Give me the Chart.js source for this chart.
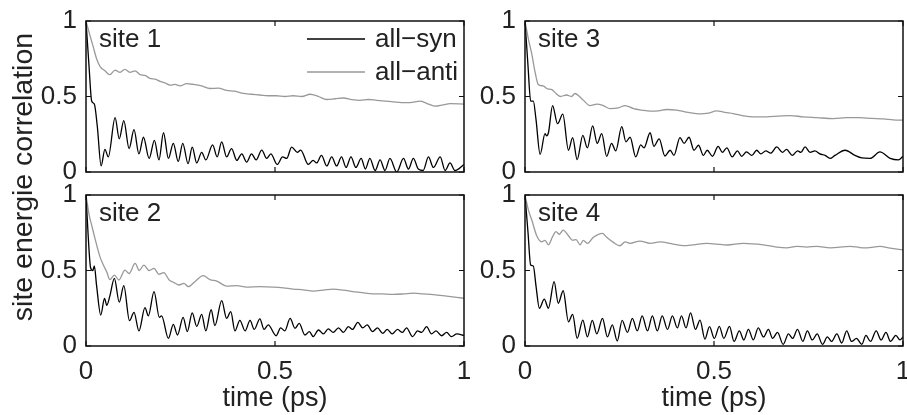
<!DOCTYPE html>
<html>
<head>
<meta charset="utf-8">
<script src="https://cdn.jsdelivr.net/npm/chart.js@4.4.1/dist/chart.umd.min.js"></script>
<style>
  html, body { margin: 0; padding: 0; background: #fff; }
  #wrap { position: relative; width: 907px; height: 415px; overflow: hidden; }
  canvas { position: absolute; }
  #ytitle {
    position: absolute; left: -138px; top: 162px; width: 320px; height: 30px;
    line-height: 30px; text-align: center; transform: rotate(-90deg);
    font-family: "Liberation Sans", Arial, sans-serif; font-size: 28.5px; color: #222;
    white-space: nowrap;
  }
</style>
</head>
<body>
<div id="wrap">
  <canvas id="c1" width="480" height="186" style="left:0px;top:0px"></canvas>
  <canvas id="c3" width="477" height="186" style="left:440px;top:0px"></canvas>
  <canvas id="c2" width="480" height="235" style="left:0px;top:180px"></canvas>
  <canvas id="c4" width="477" height="235" style="left:440px;top:180px"></canvas>
  <div id="ytitle">site energie correlation</div>
</div>
<script>
// axis ticks
const xTicks = [0, 0.5, 1];
const yTicks = [0, 0.5, 1];
const seriesNames = ['all\u2212syn', 'all\u2212anti'];

// site 1
const site1SynT = [0, .008, .015, .022, .03, .04, .05, .059, .077, .088, .1, .114, .127, .14, .152, .167, .181, .193, .205, .218, .231, .244, .256, .27, .281, .293, .306, .317, .335, .347, .359, .372, .385, .399, .412, .425, .438, .45, .465, .478, .489, .506, .52, .531, .544, .559, .568, .588, .601, .61, .623, .637, .65, .663, .676, .688, .701, .714, .728, .739, .751, .765, .778, .791, .804, .822, .84, .853, .866, .879, .892, .906, .919, .937, .95, .963, .976, 1];
const site1SynV = [1, .7, .47, .45, .3, .04, .15, .1, .36, .22, .34, .155, .28, .12, .23, .09, .21, .08, .26, .09, .19, .07, .19, .055, .165, .06, .13, .08, .18, .1, .2, .1, .155, .077, .12, .066, .12, .08, .145, .09, .12, .05, .1, .09, .165, .13, .145, .05, .077, .06, .11, .04, .1, .04, .1, .03, .1, .03, .09, .02, .09, .01, .08, .01, .09, 0, .09, .02, .09, .02, .01, .1, .03, .1, .01, .06, .01, .05];
const site1AntiT = [0, .011, .019, .028, .037, .05, .063, .077, .09, .103, .116, .13, .143, .156, .169, .183, .196, .209, .222, .235, .249, .266, .284, .306, .328, .35, .372, .394, .416, .438, .46, .482, .504, .526, .548, .571, .593, .615, .637, .659, .681, .703, .725, .747, .769, .791, .813, .835, .857, .884, .901, .923, .945, .963, 1];
const site1AntiV = [1, .9, .83, .75, .7, .67, .645, .675, .66, .68, .66, .67, .645, .64, .62, .615, .6, .59, .575, .58, .57, .585, .58, .57, .553, .555, .54, .535, .52, .515, .51, .505, .505, .5, .505, .5, .515, .5, .48, .485, .49, .48, .475, .48, .475, .47, .465, .46, .46, .47, .455, .436, .445, .453, .45];

// site 2
const site2SynT = [0, .006, .012, .018, .022, .028, .039, .049, .055, .063, .075, .088, .1, .115, .127, .14, .156, .165, .18, .194, .2, .218, .231, .242, .257, .268, .281, .293, .306, .317, .331, .341, .359, .372, .383, .394, .407, .421, .434, .445, .46, .471, .482, .503, .515, .526, .54, .553, .564, .579, .591, .601, .615, .628, .641, .654, .668, .681, .694, .705, .719, .732, .744, .758, .771, .785, .797, .81, .824, .837, .848, .864, .877, .888, .901, .914, .926, .941, .954, .967, .981, 1];
const site2SynV = [1, .72, .52, .5, .53, .4, .205, .315, .27, .33, .448, .29, .4, .168, .223, .1, .254, .2, .36, .19, .2, .05, .143, .073, .19, .095, .22, .13, .21, .1, .24, .135, .3, .183, .227, .1, .17, .1, .17, .11, .18, .11, .14, .068, .12, .1, .183, .117, .15, .073, .095, .062, .106, .08, .113, .09, .12, .09, .128, .11, .157, .12, .14, .095, .12, .084, .11, .08, .11, .09, .12, .062, .1, .09, .128, .08, .1, .068, .09, .062, .08, .07];
const site2AntiT = [0, .009, .015, .024, .037, .046, .055, .063, .075, .087, .103, .114, .13, .141, .153, .167, .18, .193, .206, .22, .233, .246, .259, .271, .288, .31, .328, .346, .372, .399, .425, .46, .496, .522, .548, .575, .601, .628, .654, .681, .707, .751, .782, .813, .84, .866, .892, .919, .954, .981, 1];
const site2AntiV = [1, .86, .8, .71, .59, .536, .49, .44, .47, .437, .503, .48, .547, .5, .536, .5, .514, .475, .486, .437, .42, .404, .415, .393, .426, .466, .44, .43, .397, .4, .39, .393, .39, .385, .377, .372, .364, .37, .377, .37, .36, .347, .345, .342, .345, .35, .345, .34, .33, .322, .316];

// site 3
const site3SynT = [0, .008, .015, .022, .029, .04, .053, .057, .062, .073, .086, .1, .115, .126, .138, .153, .165, .179, .191, .203, .216, .229, .24, .256, .267, .278, .293, .306, .315, .331, .341, .355, .37, .384, .394, .41, .421, .434, .447, .459, .472, .482, .496, .511, .522, .534, .548, .562, .573, .586, .6, .613, .624, .637, .65, .666, .681, .692, .707, .721, .73, .741, .754, .767, .78, .794, .807, .82, .847, .873, .891, .913, .939, .966, .988, 1];
const site3SynV = [1, .7, .47, .47, .35, .117, .254, .24, .26, .44, .32, .383, .144, .228, .082, .243, .16, .305, .19, .254, .104, .19, .14, .3, .2, .23, .1, .18, .16, .26, .17, .22, .106, .144, .11, .228, .19, .23, .144, .177, .11, .144, .104, .17, .13, .16, .1, .14, .104, .133, .11, .144, .12, .14, .125, .166, .13, .15, .11, .14, .13, .166, .13, .14, .12, .11, .09, .11, .144, .11, .093, .09, .133, .09, .08, .104];
const site3AntiT = [0, .009, .018, .026, .035, .048, .06, .071, .082, .093, .11, .123, .132, .144, .154, .172, .19, .207, .225, .247, .265, .287, .309, .331, .353, .375, .401, .432, .463, .485, .507, .529, .551, .578, .604, .639, .67, .701, .736, .772, .816, .851, .886, .917, .948, .974, 1];
const site3AntiV = [1, .88, .78, .67, .58, .57, .55, .546, .52, .5, .51, .5, .52, .5, .476, .44, .45, .44, .42, .425, .44, .42, .41, .403, .405, .414, .41, .395, .385, .39, .405, .395, .387, .372, .365, .365, .37, .374, .365, .36, .354, .36, .36, .355, .352, .345, .343];

// site 4
const site4SynT = [0, .008, .015, .022, .029, .038, .051, .062, .077, .088, .101, .115, .126, .138, .153, .165, .178, .19, .205, .218, .231, .244, .257, .271, .284, .297, .31, .324, .337, .35, .363, .377, .39, .403, .414, .426, .438, .451, .463, .476, .488, .501, .514, .526, .541, .553, .567, .579, .591, .604, .617, .631, .644, .655, .668, .683, .697, .708, .721, .735, .747, .76, .773, .787, .8, .811, .825, .838, .851, .864, .877, .891, .902, .914, .929, .942, .955, .967, .981, .992, 1];
const site4SynV = [1, .75, .536, .53, .4, .25, .31, .25, .426, .283, .366, .16, .21, .05, .172, .06, .17, .08, .183, .06, .14, .033, .17, .09, .183, .1, .2, .1, .2, .1, .2, .11, .2, .12, .2, .12, .22, .11, .172, .046, .128, .05, .13, .05, .13, .03, .1, .04, .11, .04, .12, .06, .11, .05, .09, .011, .08, .05, .11, .03, .1, .04, .08, .011, .06, .03, .08, .02, .1, .03, .05, .011, .07, .03, .1, .04, .09, .03, .07, .04, .06];
const site4AntiT = [0, .009, .018, .031, .044, .053, .062, .073, .082, .091, .101, .115, .126, .135, .146, .154, .165, .181, .205, .216, .234, .251, .265, .278, .304, .331, .357, .392, .419, .445, .481, .507, .534, .578, .631, .666, .692, .719, .745, .772, .807, .86, .886, .904, .939, .966, 1];
const site4AntiV = [1, .9, .834, .73, .69, .7, .67, .724, .757, .74, .768, .73, .7, .705, .67, .7, .68, .72, .746, .72, .686, .664, .69, .68, .695, .68, .69, .675, .665, .67, .68, .675, .669, .68, .67, .655, .65, .66, .655, .66, .65, .66, .652, .65, .66, .648, .636];

const FONT = '"Liberation Sans", Arial, sans-serif';
Chart.defaults.font.family = FONT;
Chart.defaults.font.size = 26;
Chart.defaults.color = '#222';

function pts(ts, vs) {
  return ts.map((t, i) => ({x: t, y: vs[i]}));
}

// frame, inward ticks, panel label and legend
const framePlugin = {
  id: 'frame',
  afterDatasetsDraw(chart, args, opts) {
    const {ctx, chartArea: a, scales} = chart;
    ctx.save();
    ctx.strokeStyle = '#111';
    ctx.lineWidth = 1.5;
    ctx.strokeRect(a.left, a.top, a.right - a.left, a.bottom - a.top);
    ctx.lineWidth = 1.2;
    ctx.beginPath();
    xTicks.forEach(v => {
      const x = scales.x.getPixelForValue(v);
      ctx.moveTo(x, a.bottom); ctx.lineTo(x, a.bottom - 5);
      ctx.moveTo(x, a.top); ctx.lineTo(x, a.top + 5);
    });
    yTicks.forEach(v => {
      const y = scales.y.getPixelForValue(v);
      ctx.moveTo(a.left, y); ctx.lineTo(a.left + 5, y);
      ctx.moveTo(a.right, y); ctx.lineTo(a.right - 5, y);
    });
    ctx.stroke();

    ctx.fillStyle = '#222';
    ctx.font = '26px ' + FONT;
    ctx.textBaseline = 'middle';
    ctx.textAlign = 'left';
    ctx.fillText(opts.label, a.left + 13, a.top + 19);

    if (opts.legend) {
      chart.data.datasets.forEach((ds, i) => {
        const y = a.top + 18 + i * 33;
        ctx.strokeStyle = ds.borderColor;
        ctx.lineWidth = 1.3;
        ctx.beginPath();
        ctx.moveTo(a.left + 221, y); ctx.lineTo(a.left + 279, y);
        ctx.stroke();
        ctx.fillText(ds.label, a.left + 289, y + 1);
      });
    }
    ctx.restore();
  }
};

function makeChart(id, synT, synV, antiT, antiV, label, bottom, legend, yWidth, xHeight, pad) {
  new Chart(document.getElementById(id), {
    type: 'line',
    data: {
      datasets: [
        { label: seriesNames[0], data: pts(synT, synV), borderColor: '#000', borderWidth: 1.3 },
        { label: seriesNames[1], data: pts(antiT, antiV), borderColor: '#999', borderWidth: 1.3 }
      ]
    },
    options: {
      responsive: false,
      animation: false,
      events: [],
      layout: { padding: pad },
      elements: { point: { radius: 0 }, line: { cubicInterpolationMode: 'monotone' } },
      plugins: {
        legend: { display: false },
        tooltip: { enabled: false },
        frame: { label: label, legend: legend }
      },
      scales: {
        x: {
          type: 'linear', min: 0, max: 1,
          grid: { display: false, drawTicks: false },
          border: { display: false },
          afterBuildTicks: s => { s.ticks = xTicks.map(v => ({value: v})); },
          ticks: { display: bottom, padding: 10, maxRotation: 0, autoSkip: false, callback: v => String(v) },
          title: { display: bottom, text: 'time (ps)', font: { size: 27 }, padding: 0 },
          afterFit: s => { s.height = xHeight; s.paddingLeft = 0; s.paddingRight = 0; }
        },
        y: {
          min: 0, max: 1,
          grid: { display: false, drawTicks: false },
          border: { display: false },
          afterBuildTicks: s => { s.ticks = yTicks.map(v => ({value: v})); },
          ticks: { padding: 9, callback: v => String(v) },
          afterFit: s => { s.width = yWidth; s.paddingTop = 0; s.paddingBottom = 0; }
        }
      }
    },
    plugins: [framePlugin]
  });
}

makeChart('c1', site1SynT, site1SynV, site1AntiT, site1AntiV, 'site 1', false, true, 86, 14, {top: 21, right: 16});
makeChart('c3', site3SynT, site3SynV, site3AntiT, site3AntiV, 'site 3', false, false, 85, 14, {top: 21, right: 14});
makeChart('c2', site2SynT, site2SynV, site2AntiT, site2AntiV, 'site 2', true, false, 86, 69, {top: 15, right: 16});
makeChart('c4', site4SynT, site4SynV, site4AntiT, site4AntiV, 'site 4', true, false, 85, 69, {top: 15, right: 14});
</script>
</body>
</html>
